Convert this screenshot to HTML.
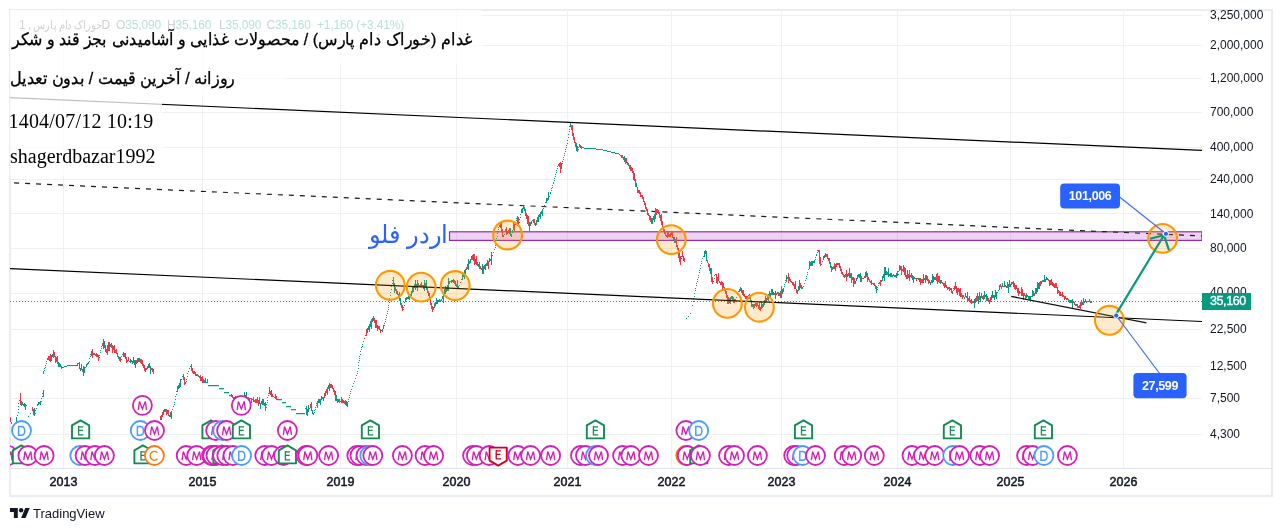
<!DOCTYPE html>
<html><head><meta charset="utf-8"><style>
*{margin:0;padding:0;box-sizing:border-box}
html,body{width:1282px;height:531px;overflow:hidden;background:#fff;font-family:"Liberation Sans",sans-serif}
.abs{position:absolute}
.frame{position:absolute;left:9px;top:9px;width:1264px;height:488px;border:2px solid #eaecf1}
.chart{position:absolute;left:10px;top:10px;width:1192px;height:458px;overflow:hidden}
.tax{position:absolute;left:10px;top:468px;width:1262px;height:1px;background:#e0e3eb}
.yl{position:absolute;font-size:12px;color:#131722;left:1210px;line-height:14px}
.xl{position:absolute;font-size:12.5px;color:#131722;-webkit-text-stroke:0.5px #131722;top:475px;width:40px;text-align:center}
.ov{position:absolute;background:rgba(255,255,255,0.75)}
.t1{position:absolute;color:#000;white-space:nowrap;direction:rtl;transform-origin:100% 50%}
.leg{position:absolute;top:18px;font-size:12px;white-space:nowrap;color:#cfd0d4;letter-spacing:-0.15px}
.leg b{font-weight:normal;color:#b9e2dc}
</style></head><body>
<div id="root" style="position:absolute;left:0;top:0;width:1282px;height:531px;will-change:transform">
<div class="frame"></div>
<div class="tax"></div>
<div class="chart">
<div style="position:absolute;left:-10px;top:-10px">
<svg width="1282" height="531" viewBox="0 0 1282 531" style="position:absolute;left:0;top:0" font-family="Liberation Sans, sans-serif">
<g stroke="#eff0f1" stroke-width="1">
<line x1="10" y1="15.5" x2="1202" y2="15.5"/>
<line x1="10" y1="45.5" x2="1202" y2="45.5"/>
<line x1="10" y1="78.5" x2="1202" y2="78.5"/>
<line x1="10" y1="112.5" x2="1202" y2="112.5"/>
<line x1="10" y1="147.5" x2="1202" y2="147.5"/>
<line x1="10" y1="179.5" x2="1202" y2="179.5"/>
<line x1="10" y1="213.5" x2="1202" y2="213.5"/>
<line x1="10" y1="248.5" x2="1202" y2="248.5"/>
<line x1="10" y1="293.5" x2="1202" y2="293.5"/>
<line x1="10" y1="329.5" x2="1202" y2="329.5"/>
<line x1="10" y1="366.5" x2="1202" y2="366.5"/>
<line x1="10" y1="398.5" x2="1202" y2="398.5"/>
<line x1="10" y1="434.5" x2="1202" y2="434.5"/>
<line x1="63.5" y1="10" x2="63.5" y2="468"/>
<line x1="202.5" y1="10" x2="202.5" y2="468"/>
<line x1="340.5" y1="10" x2="340.5" y2="468"/>
<line x1="456.5" y1="10" x2="456.5" y2="468"/>
<line x1="567.5" y1="10" x2="567.5" y2="468"/>
<line x1="671.5" y1="10" x2="671.5" y2="468"/>
<line x1="781.5" y1="10" x2="781.5" y2="468"/>
<line x1="897.5" y1="10" x2="897.5" y2="468"/>
<line x1="1010.5" y1="10" x2="1010.5" y2="468"/>
<line x1="1123.5" y1="10" x2="1123.5" y2="468"/>
</g>
<rect x="449.5" y="231.8" width="752.5" height="8.6" fill="rgba(156,39,176,0.2)" stroke="#9c27b0" stroke-width="1.2"/>
<line x1="13" y1="182.9" x2="1202" y2="236" stroke="#1a1a1a" stroke-width="1.2" stroke-dasharray="5 6" stroke-dashoffset="-1.1"/>
<line x1="10" y1="301.5" x2="1202" y2="301.5" stroke="#089981" stroke-width="1" stroke-dasharray="1 2"/>
<g><path d="M16 417h1v6h-1zM17 415h1v1h-1zM18 403h1v1h-1zM18 406h1v1h-1zM18 409h1v1h-1zM18 412h1v1h-1zM19 400h1v1h-1zM22 402h1v3h-1zM23 404h1v2h-1zM24 403h1v4h-1zM25 404h1v6h-1zM26 405h1v1h-1zM28 416h1v1h-1zM30 413h1v1h-1zM34 408h1v8h-1zM35 410h1v1h-1zM35 413h1v1h-1zM36 408h1v1h-1zM37 404h1v1h-1zM37 405h1v1h-1zM38 402h1v3h-1zM40 401h1v4h-1zM41 398h1v1h-1zM41 401h1v1h-1zM42 393h1v1h-1zM42 396h1v1h-1zM43 390h1v7h-1zM44 368h1v1h-1zM44 370h1v1h-1zM45 365h1v1h-1zM45 367h1v1h-1zM46 361h1v1h-1zM46 363h1v1h-1zM47 358h1v1h-1zM47 359h1v1h-1zM52 354h1v3h-1zM53 350h1v8h-1zM58 362h1v5h-1zM60 364h1v3h-1zM61 366h1v3h-1zM62 367h1v1h-1zM63 367h1v1h-1zM64 366h1v1h-1zM65 366h1v1h-1zM66 366h1v1h-1zM67 365h1v1h-1zM68 365h1v1h-1zM69 365h1v1h-1zM70 365h1v1h-1zM71 365h1v1h-1zM72 365h1v1h-1zM73 365h1v1h-1zM74 365h1v1h-1zM75 365h1v1h-1zM76 365h1v1h-1zM77 363h1v3h-1zM79 362h1v7h-1zM80 368h1v3h-1zM81 364h1v6h-1zM83 366h1v10h-1zM84 367h1v6h-1zM85 367h1v1h-1zM86 364h1v3h-1zM87 363h1v2h-1zM88 362h1v2h-1zM89 358h1v1h-1zM89 361h1v1h-1zM90 354h1v1h-1zM90 356h1v1h-1zM91 351h1v5h-1zM95 354h1v2h-1zM97 354h1v3h-1zM99 355h1v1h-1zM99 357h1v1h-1zM100 350h1v1h-1zM100 352h1v1h-1zM101 346h1v1h-1zM101 348h1v1h-1zM103 339h1v10h-1zM104 341h1v7h-1zM107 345h1v10h-1zM109 342h1v9h-1zM110 344h1v3h-1zM113 346h1v4h-1zM117 353h1v4h-1zM118 356h1v3h-1zM122 354h1v1h-1zM123 352h1v5h-1zM125 353h1v6h-1zM129 361h1v1h-1zM130 359h1v4h-1zM131 360h1v2h-1zM132 361h1v3h-1zM133 357h1v6h-1zM134 360h1v5h-1zM135 360h1v8h-1zM137 358h1v5h-1zM138 358h1v4h-1zM147 366h1v3h-1zM148 364h1v4h-1zM150 366h1v8h-1zM161 415h1v5h-1zM163 410h1v5h-1zM164 409h1v3h-1zM167 410h1v4h-1zM169 415h1v2h-1zM170 412h1v5h-1zM171 411h1v8h-1zM172 409h1v1h-1zM173 406h1v1h-1zM174 402h1v1h-1zM174 404h1v1h-1zM175 396h1v1h-1zM175 399h1v1h-1zM176 391h1v1h-1zM176 394h1v1h-1zM178 385h1v4h-1zM179 383h1v5h-1zM180 379h1v8h-1zM181 379h1v1h-1zM182 376h1v1h-1zM187 373h1v1h-1zM187 376h1v1h-1zM188 371h1v1h-1zM189 368h1v1h-1zM190 366h1v1h-1zM198 375h1v2h-1zM201 377h1v4h-1zM204 380h1v3h-1zM206 382h1v1h-1zM208 385h1v1.3h-1zM209 385h1v1.3h-1zM210 385h1v1.3h-1zM211 385h1v1.3h-1zM212 385h1v1.3h-1zM213 385h1v1.3h-1zM214 385h1v1.3h-1zM215 385h1v1.3h-1zM216 385h1v1.3h-1zM217 385h1v1.3h-1zM218 385h1v1.3h-1zM219 388h1v1.3h-1zM220 388h1v1.3h-1zM221 388h1v1.3h-1zM222 388h1v1.3h-1zM223 388h1v1.3h-1zM224 392h1v1.3h-1zM225 392h1v1.3h-1zM226 392h1v1.3h-1zM227 392h1v1.3h-1zM228 392h1v1.3h-1zM229 395h1v1.3h-1zM230 395h1v1.3h-1zM231 394h1v3h-1zM233 397h1v2h-1zM234 397h1v1h-1zM235 396h1v2h-1zM236 397h1v2h-1zM237 396h1v2h-1zM239 398h1v1h-1zM240 396h1v5h-1zM241 397h1v2h-1zM244 392h1v7h-1zM245 395h1v3h-1zM246 392h1v7h-1zM247 397h1v1h-1zM260 403h1v6h-1zM261 401h1v3h-1zM262 399h1v6h-1zM263 399h1v6h-1zM264 403h1v3h-1zM266 404h1v1h-1zM266 407h1v1h-1zM267 397h1v1h-1zM267 400h1v1h-1zM267 402h1v1h-1zM269 387h1v7h-1zM271 390h1v7h-1zM274 397h1v1h-1zM277 399h1v1.3h-1zM278 399h1v1.3h-1zM279 399h1v1.3h-1zM280 399h1v1.3h-1zM281 399h1v1.3h-1zM282 402h1v1.3h-1zM283 402h1v1.3h-1zM284 402h1v1.3h-1zM285 402h1v1.3h-1zM286 406h1v1.3h-1zM287 406h1v1.3h-1zM288 406h1v1.3h-1zM289 406h1v1.3h-1zM290 406h1v1.3h-1zM291 409h1v1.3h-1zM292 409h1v1.3h-1zM293 409h1v1.3h-1zM294 409h1v1.3h-1zM295 409h1v1.3h-1zM296 413h1v1.3h-1zM297 413h1v1.3h-1zM298 413h1v1.3h-1zM299 413h1v1.3h-1zM300 413h1v1.3h-1zM301 413h1v1.3h-1zM302 413h1v1.3h-1zM303 413h1v1.3h-1zM304 413h1v1.3h-1zM305 408h1v1h-1zM306 406h1v9h-1zM308 405h1v7h-1zM309 408h1v1h-1zM312 410h1v4h-1zM313 413h1v2h-1zM314 410h1v1h-1zM314 412h1v1h-1zM315 407h1v1h-1zM315 409h1v1h-1zM316 403h1v1h-1zM316 405h1v1h-1zM318 399h1v4h-1zM319 399h1v4h-1zM320 399h1v6h-1zM321 396h1v4h-1zM322 397h1v2h-1zM323 397h1v4h-1zM325 391h1v5h-1zM328 385h1v4h-1zM329 383h1v8h-1zM336 395h1v6h-1zM338 399h1v3h-1zM343 400h1v3h-1zM346 401h1v5h-1zM347 402h1v5h-1zM348 399h1v1h-1zM348 401h1v1h-1zM349 395h1v1h-1zM349 397h1v1h-1zM350 391h1v1h-1zM350 393h1v1h-1zM351 389h1v1h-1zM352 386h1v1h-1zM353 383h1v1h-1zM354 381h1v1h-1zM356 375h1v1h-1zM357 371h1v1h-1zM357 373h1v1h-1zM358 362h1v1h-1zM358 365h1v1h-1zM358 368h1v1h-1zM359 356h1v1h-1zM359 358h1v1h-1zM359 360h1v1h-1zM360 351h1v1h-1zM360 354h1v1h-1zM361 347h1v1h-1zM361 349h1v1h-1zM362 344h1v1h-1zM362 346h1v1h-1zM363 341h1v1h-1zM365 335h1v1h-1zM367 328h1v5h-1zM368 326h1v4h-1zM370 321h1v6h-1zM372 318h1v4h-1zM373 316h1v5h-1zM375 320h1v8h-1zM381 330h1v1h-1zM382 329h1v3h-1zM383 325h1v4h-1zM384 323h1v1h-1zM384 325h1v1h-1zM385 319h1v1h-1zM385 321h1v1h-1zM386 315h1v1h-1zM386 317h1v1h-1zM387 311h1v1h-1zM387 313h1v1h-1zM388 305h1v1h-1zM388 307h1v1h-1zM388 309h1v1h-1zM389 298h1v1h-1zM389 300h1v1h-1zM389 302h1v1h-1zM390 292h1v1h-1zM390 295h1v1h-1zM391 286h1v1h-1zM391 289h1v1h-1zM392 280h1v1h-1zM392 283h1v1h-1zM394 283h1v10h-1zM397 291h1v4h-1zM398 294h1v3h-1zM400 298h1v7h-1zM404 302h1v1h-1zM404 305h1v1h-1zM405 298h1v4h-1zM406 297h1v3h-1zM407 297h1v2h-1zM408 296h1v3h-1zM409 296h1v4h-1zM410 294h1v3h-1zM411 291h1v5h-1zM412 286h1v7h-1zM413 287h1v5h-1zM414 284h1v4h-1zM415 280h1v10h-1zM416 284h1v4h-1zM417 280h1v11h-1zM418 283h1v4h-1zM422 285h1v2h-1zM423 285h1v4h-1zM424 280h1v11h-1zM425 283h1v5h-1zM426 280h1v10h-1zM433 307h1v3h-1zM434 303h1v5h-1zM435 302h1v4h-1zM436 298h1v6h-1zM437 300h1v4h-1zM438 300h1v2h-1zM440 300h1v2h-1zM441 299h1v2h-1zM442 296h1v3h-1zM444 289h1v7h-1zM445 286h1v8h-1zM446 287h1v5h-1zM447 285h1v6h-1zM448 278h1v13h-1zM449 281h1v3h-1zM450 281h1v1h-1zM451 280h1v3h-1zM452 280h1v2h-1zM453 279h1v4h-1zM456 284h1v3h-1zM458 286h1v3h-1zM459 285h1v1h-1zM461 279h1v1h-1zM462 274h1v6h-1zM463 273h1v4h-1zM464 270h1v9h-1zM465 269h1v5h-1zM467 264h1v5h-1zM468 259h1v11h-1zM470 259h1v4h-1zM471 256h1v4h-1zM473 254h1v7h-1zM477 262h1v4h-1zM478 264h1v3h-1zM482 264h1v10h-1zM484 265h1v4h-1zM486 263h1v3h-1zM489 258h1v4h-1zM490 259h1v2h-1zM491 252h1v13h-1zM492 255h1v1h-1zM494 249h1v1h-1zM495 245h1v1h-1zM495 247h1v1h-1zM496 238h1v1h-1zM496 240h1v1h-1zM496 243h1v1h-1zM498 227h1v1h-1zM498 229h1v1h-1zM504 231h1v1h-1zM504 234h1v1h-1zM507 231h1v3h-1zM509 228h1v6h-1zM510 228h1v8h-1zM511 234h1v3h-1zM512 230h1v1h-1zM512 232h1v1h-1zM516 218h1v1h-1zM516 220h1v1h-1zM519 219h1v1h-1zM519 222h1v1h-1zM520 214h1v1h-1zM520 217h1v1h-1zM521 209h1v4h-1zM522 208h1v5h-1zM523 206h1v3h-1zM524 207h1v4h-1zM530 222h1v4h-1zM531 221h1v3h-1zM532 220h1v1h-1zM535 223h1v3h-1zM536 220h1v5h-1zM537 217h1v5h-1zM538 215h1v7h-1zM539 214h1v3h-1zM540 212h1v7h-1zM542 209h1v7h-1zM543 208h1v1h-1zM544 205h1v1h-1zM545 202h1v1h-1zM546 198h1v5h-1zM548 192h1v8h-1zM549 196h1v1h-1zM550 192h1v1h-1zM550 193h1v1h-1zM551 188h1v1h-1zM551 190h1v1h-1zM552 185h1v1h-1zM552 187h1v1h-1zM553 182h1v1h-1zM553 183h1v1h-1zM554 178h1v1h-1zM554 180h1v1h-1zM555 174h1v1h-1zM555 176h1v1h-1zM556 170h1v1h-1zM556 172h1v1h-1zM557 166h1v1h-1zM557 168h1v1h-1zM561 163h1v6h-1zM562 161h1v1h-1zM562 163h1v1h-1zM565 149h1v1h-1zM565 151h1v1h-1zM566 145h1v1h-1zM566 147h1v1h-1zM567 140h1v1h-1zM567 143h1v1h-1zM568 134h1v1h-1zM568 137h1v1h-1zM569 126h1v1h-1zM569 129h1v1h-1zM569 131h1v1h-1zM570 123h1v4h-1zM576 143h1v8h-1zM578 147h1v1h-1zM578 149h1v1h-1zM579 144h1v3h-1zM582 147h1v1h-1zM583 147h1v1h-1zM584 148h1v1h-1zM585 148h1v1h-1zM586 148h1v1h-1zM587 148h1v1h-1zM588 148h1v1h-1zM589 148h1v1h-1zM590 148h1v1h-1zM591 148h1v1h-1zM592 148h1v1h-1zM593 148h1v1h-1zM594 148h1v1h-1zM595 148h1v1h-1zM596 149h1v1h-1zM597 149h1v1h-1zM598 149h1v1h-1zM599 149h1v1h-1zM600 149h1v1h-1zM601 149h1v1h-1zM602 149h1v1h-1zM603 150h1v1h-1zM604 150h1v1h-1zM605 150h1v1h-1zM606 150h1v1h-1zM607 151h1v1h-1zM608 151h1v1h-1zM609 151h1v1h-1zM610 151h1v1h-1zM611 152h1v1h-1zM612 152h1v1h-1zM613 152h1v1h-1zM614 152h1v1h-1zM615 153h1v1h-1zM616 153h1v1h-1zM617 153h1v1h-1zM618 153h1v1h-1zM619 154h1v1h-1zM620 155h1v1h-1zM624 156h1v6h-1zM628 163h1v3h-1zM636 183h1v4h-1zM647 209h1v6h-1zM652 218h1v6h-1zM653 216h1v4h-1zM654 214h1v8h-1zM657 209h1v4h-1zM665 232h1v4h-1zM667 231h1v7h-1zM671 232h1v3h-1zM673 237h1v3h-1zM674 237h1v6h-1zM675 239h1v4h-1zM681 256h1v1h-1zM681 258h1v1h-1zM686 318h1v1h-1zM688 316h1v1h-1zM690 313h1v1h-1zM692 305h1v1h-1zM693 298h1v1h-1zM693 301h1v1h-1zM694 293h1v1h-1zM694 296h1v1h-1zM695 288h1v1h-1zM695 290h1v1h-1zM696 283h1v1h-1zM696 285h1v1h-1zM697 279h1v1h-1zM697 281h1v1h-1zM698 275h1v1h-1zM698 277h1v1h-1zM699 270h1v1h-1zM699 272h1v1h-1zM700 265h1v1h-1zM700 268h1v1h-1zM701 261h1v1h-1zM701 263h1v1h-1zM702 258h1v1h-1zM704 251h1v6h-1zM706 251h1v10h-1zM707 260h1v3h-1zM710 268h1v6h-1zM713 281h1v1h-1zM714 275h1v1h-1zM714 278h1v1h-1zM715 274h1v1h-1zM729 298h1v5h-1zM730 297h1v7h-1zM731 296h1v3h-1zM732 296h1v5h-1zM735 299h1v2h-1zM736 297h1v1h-1zM737 294h1v1h-1zM738 291h1v1h-1zM739 289h1v3h-1zM740 287h1v4h-1zM741 288h1v5h-1zM747 296h1v4h-1zM749 294h1v5h-1zM750 296h1v5h-1zM752 304h1v3h-1zM753 304h1v5h-1zM755 303h1v3h-1zM761 301h1v8h-1zM762 304h1v4h-1zM763 303h1v4h-1zM764 300h1v5h-1zM765 296h1v7h-1zM768 294h1v7h-1zM769 291h1v6h-1zM770 293h1v4h-1zM771 289h1v6h-1zM772 289h1v6h-1zM773 292h1v3h-1zM775 291h1v8h-1zM777 292h1v2h-1zM778 292h1v4h-1zM779 293h1v3h-1zM782 289h1v5h-1zM784 284h1v1h-1zM784 286h1v1h-1zM785 280h1v1h-1zM785 282h1v1h-1zM786 275h1v7h-1zM789 277h1v4h-1zM795 281h1v8h-1zM798 286h1v5h-1zM799 280h1v10h-1zM802 287h1v2h-1zM803 286h1v1h-1zM804 283h1v1h-1zM805 280h1v1h-1zM806 276h1v1h-1zM806 278h1v1h-1zM807 272h1v1h-1zM807 274h1v1h-1zM808 269h1v1h-1zM809 261h1v8h-1zM810 262h1v4h-1zM812 261h1v5h-1zM813 261h1v2h-1zM814 260h1v3h-1zM815 257h1v1h-1zM815 259h1v1h-1zM816 254h1v1h-1zM816 255h1v1h-1zM817 250h1v1h-1zM817 252h1v1h-1zM821 264h1v1h-1zM823 256h1v4h-1zM824 255h1v3h-1zM825 253h1v4h-1zM830 262h1v6h-1zM832 267h1v3h-1zM835 264h1v7h-1zM837 263h1v2h-1zM839 263h1v5h-1zM844 275h1v3h-1zM845 274h1v3h-1zM847 274h1v3h-1zM849 268h1v10h-1zM850 273h1v5h-1zM853 277h1v10h-1zM855 281h1v3h-1zM856 278h1v3h-1zM857 275h1v4h-1zM858 274h1v3h-1zM859 274h1v4h-1zM860 273h1v9h-1zM863 278h1v1h-1zM865 272h1v6h-1zM866 271h1v6h-1zM876 286h1v7h-1zM877 287h1v1h-1zM877 289h1v1h-1zM878 283h1v1h-1zM878 285h1v1h-1zM881 280h1v2h-1zM882 276h1v5h-1zM883 274h1v4h-1zM884 267h1v14h-1zM885 267h1v8h-1zM886 271h1v4h-1zM888 268h1v9h-1zM889 274h1v2h-1zM890 273h1v4h-1zM891 273h1v4h-1zM892 275h1v2h-1zM894 275h1v2h-1zM895 275h1v2h-1zM896 273h1v5h-1zM898 271h1v1h-1zM898 274h1v1h-1zM899 265h1v6h-1zM903 265h1v7h-1zM907 270h1v9h-1zM909 270h1v11h-1zM911 273h1v5h-1zM912 275h1v5h-1zM913 276h1v7h-1zM914 277h1v2h-1zM917 278h1v1h-1zM918 278h1v2h-1zM919 278h1v4h-1zM923 274h1v9h-1zM924 278h1v2h-1zM925 275h1v8h-1zM927 276h1v5h-1zM930 282h1v3h-1zM931 280h1v3h-1zM932 274h1v9h-1zM933 276h1v6h-1zM934 277h1v3h-1zM940 280h1v4h-1zM949 287h1v4h-1zM953 288h1v1h-1zM953 290h1v1h-1zM955 282h1v7h-1zM964 297h1v2h-1zM965 293h1v4h-1zM966 296h1v2h-1zM967 292h1v10h-1zM974 299h1v9h-1zM975 298h1v5h-1zM978 296h1v8h-1zM980 296h1v6h-1zM983 295h1v5h-1zM984 291h1v8h-1zM985 295h1v2h-1zM986 294h1v7h-1zM987 296h1v5h-1zM989 300h1v4h-1zM991 295h1v5h-1zM992 291h1v7h-1zM994 295h1v5h-1zM995 290h1v7h-1zM996 292h1v7h-1zM997 292h1v1h-1zM998 290h1v1h-1zM999 285h1v5h-1zM1002 283h1v4h-1zM1004 281h1v6h-1zM1005 285h1v2h-1zM1007 282h1v6h-1zM1008 284h1v9h-1zM1009 280h1v7h-1zM1010 284h1v3h-1zM1011 282h1v3h-1zM1023 293h1v7h-1zM1026 293h1v5h-1zM1028 296h1v3h-1zM1029 296h1v4h-1zM1030 296h1v4h-1zM1032 290h1v7h-1zM1035 288h1v6h-1zM1036 288h1v6h-1zM1037 282h1v10h-1zM1038 283h1v6h-1zM1039 282h1v7h-1zM1041 281h1v3h-1zM1042 280h1v2h-1zM1043 280h1v2h-1zM1044 275h1v7h-1zM1045 279h1v3h-1zM1046 277h1v3h-1zM1047 278h1v2h-1zM1049 280h1v6h-1zM1051 279h1v6h-1zM1057 287h1v7h-1zM1068 299h1v3h-1zM1070 300h1v3h-1zM1072 299h1v9h-1zM1076 304h1v2h-1zM1081 300h1v6h-1zM1082 302h1v3h-1zM1084 301h1v2h-1zM1085 299h1v3h-1zM1090 301h1v2h-1zM1091 301h1v2h-1z" fill="#089981"/>
<path d="M10 417h1v5h-1zM11 422h1v2h-1zM20 393h1v12h-1zM21 401h1v5h-1zM32 407h1v4h-1zM33 409h1v6h-1zM39 402h1v2h-1zM43 371h1v3h-1zM48 356h1v4h-1zM49 356h1v5h-1zM50 354h1v8h-1zM51 355h1v6h-1zM54 352h1v5h-1zM55 356h1v7h-1zM56 357h1v5h-1zM57 356h1v8h-1zM59 363h1v4h-1zM78 363h1v1h-1zM82 369h1v3h-1zM92 349h1v9h-1zM93 353h1v2h-1zM94 353h1v2h-1zM96 353h1v4h-1zM98 355h1v6h-1zM102 343h1v3h-1zM105 345h1v7h-1zM106 349h1v4h-1zM108 342h1v9h-1zM111 343h1v5h-1zM112 345h1v8h-1zM114 345h1v8h-1zM115 350h1v3h-1zM116 349h1v5h-1zM119 357h1v4h-1zM120 357h1v5h-1zM121 356h1v1h-1zM121 359h1v1h-1zM124 353h1v4h-1zM126 357h1v6h-1zM127 360h1v2h-1zM128 357h1v4h-1zM136 360h1v4h-1zM139 358h1v4h-1zM140 359h1v4h-1zM141 359h1v5h-1zM142 360h1v6h-1zM143 364h1v4h-1zM144 365h1v6h-1zM145 368h1v4h-1zM146 368h1v2h-1zM149 363h1v5h-1zM151 368h1v2h-1zM152 368h1v4h-1zM153 369h1v5h-1zM160 416h1v4h-1zM162 412h1v5h-1zM165 409h1v3h-1zM166 409h1v6h-1zM168 410h1v6h-1zM177 386h1v6h-1zM183 374h1v6h-1zM184 377h1v8h-1zM185 382h1v2h-1zM186 379h1v1h-1zM186 381h1v1h-1zM191 364h1v7h-1zM192 368h1v5h-1zM193 371h1v3h-1zM194 371h1v3h-1zM195 372h1v4h-1zM196 374h1v2h-1zM197 374h1v2h-1zM199 376h1v2h-1zM200 375h1v6h-1zM202 376h1v7h-1zM203 379h1v4h-1zM205 378h1v5h-1zM207 379h1v4h-1zM232 395h1v3h-1zM238 397h1v3h-1zM242 396h1v7h-1zM243 396h1v3h-1zM248 397h1v2h-1zM249 398h1v6h-1zM250 398h1v1h-1zM251 398h1v5h-1zM252 399h1v1h-1zM253 397h1v5h-1zM254 400h1v2h-1zM255 399h1v4h-1zM256 399h1v4h-1zM257 397h1v6h-1zM258 400h1v6h-1zM259 397h1v7h-1zM265 402h1v9h-1zM268 393h1v1h-1zM268 395h1v1h-1zM270 391h1v4h-1zM272 394h1v3h-1zM273 396h1v1h-1zM275 394h1v5h-1zM276 396h1v4h-1zM307 409h1v7h-1zM310 404h1v4h-1zM311 402h1v9h-1zM317 401h1v7h-1zM324 393h1v5h-1zM326 389h1v4h-1zM327 387h1v8h-1zM330 384h1v4h-1zM331 384h1v4h-1zM332 385h1v4h-1zM333 388h1v4h-1zM334 390h1v5h-1zM335 391h1v10h-1zM337 399h1v4h-1zM339 399h1v4h-1zM340 401h1v1h-1zM341 397h1v6h-1zM342 399h1v4h-1zM344 401h1v3h-1zM345 400h1v5h-1zM355 378h1v1h-1zM364 338h1v1h-1zM366 329h1v7h-1zM369 324h1v8h-1zM371 319h1v10h-1zM374 318h1v5h-1zM376 320h1v8h-1zM377 325h1v6h-1zM378 326h1v3h-1zM379 326h1v4h-1zM380 329h1v4h-1zM393 277h1v9h-1zM395 287h1v4h-1zM396 289h1v5h-1zM399 292h1v9h-1zM401 303h1v5h-1zM402 305h1v6h-1zM403 307h1v1h-1zM403 309h1v1h-1zM419 285h1v2h-1zM420 284h1v3h-1zM421 282h1v5h-1zM427 288h1v5h-1zM428 291h1v5h-1zM429 293h1v7h-1zM430 297h1v8h-1zM431 303h1v6h-1zM432 306h1v6h-1zM439 299h1v2h-1zM443 293h1v10h-1zM454 280h1v4h-1zM455 281h1v5h-1zM457 280h1v9h-1zM460 282h1v1h-1zM466 267h1v3h-1zM469 261h1v3h-1zM472 255h1v5h-1zM474 254h1v11h-1zM475 259h1v5h-1zM476 256h1v9h-1zM479 262h1v7h-1zM480 266h1v3h-1zM481 268h1v2h-1zM483 266h1v8h-1zM485 264h1v6h-1zM487 260h1v6h-1zM488 261h1v8h-1zM493 252h1v1h-1zM497 231h1v1h-1zM497 233h1v1h-1zM497 236h1v1h-1zM499 225h1v2h-1zM500 223h1v5h-1zM501 222h1v10h-1zM502 229h1v8h-1zM503 235h1v2h-1zM505 229h1v3h-1zM506 227h1v8h-1zM508 230h1v1h-1zM508 232h1v1h-1zM513 221h1v9h-1zM514 224h1v7h-1zM515 222h1v1h-1zM515 224h1v1h-1zM517 216h1v10h-1zM518 217h1v8h-1zM525 209h1v7h-1zM526 213h1v6h-1zM527 215h1v9h-1zM528 216h1v10h-1zM529 222h1v9h-1zM533 219h1v4h-1zM534 219h1v6h-1zM541 211h1v3h-1zM547 198h1v3h-1zM558 164h1v2h-1zM559 163h1v4h-1zM560 162h1v11h-1zM563 157h1v1h-1zM563 159h1v1h-1zM564 153h1v1h-1zM564 155h1v1h-1zM571 125h1v5h-1zM572 125h1v11h-1zM573 133h1v7h-1zM574 137h1v6h-1zM575 142h1v5h-1zM577 146h1v6h-1zM580 145h1v3h-1zM581 146h1v3h-1zM621 155h1v3h-1zM622 155h1v3h-1zM623 157h1v3h-1zM625 158h1v6h-1zM626 158h1v5h-1zM627 162h1v3h-1zM629 165h1v4h-1zM630 165h1v6h-1zM631 167h1v4h-1zM632 168h1v5h-1zM633 171h1v9h-1zM634 173h1v8h-1zM635 179h1v8h-1zM637 187h1v6h-1zM638 190h1v3h-1zM639 190h1v4h-1zM640 192h1v5h-1zM641 195h1v2h-1zM642 195h1v4h-1zM643 197h1v5h-1zM644 201h1v4h-1zM645 203h1v6h-1zM646 207h1v4h-1zM648 213h1v3h-1zM649 215h1v5h-1zM650 216h1v6h-1zM651 218h1v6h-1zM655 208h1v11h-1zM656 209h1v6h-1zM658 210h1v4h-1zM659 212h1v6h-1zM660 215h1v6h-1zM661 214h1v11h-1zM662 221h1v8h-1zM663 227h1v4h-1zM664 229h1v5h-1zM666 235h1v2h-1zM668 231h1v6h-1zM669 234h1v3h-1zM670 233h1v4h-1zM672 231h1v7h-1zM676 237h1v10h-1zM677 245h1v5h-1zM678 248h1v10h-1zM679 252h1v10h-1zM680 256h1v9h-1zM682 251h1v6h-1zM683 256h1v5h-1zM684 258h1v4h-1zM703 256h1v1h-1zM705 250h1v4h-1zM708 263h1v4h-1zM709 264h1v7h-1zM711 268h1v14h-1zM712 277h1v7h-1zM716 274h1v9h-1zM717 277h1v7h-1zM718 273h1v8h-1zM719 281h1v2h-1zM720 282h1v3h-1zM721 281h1v4h-1zM722 282h1v8h-1zM723 283h1v5h-1zM724 287h1v4h-1zM725 290h1v4h-1zM726 291h1v7h-1zM727 295h1v9h-1zM728 297h1v7h-1zM733 297h1v6h-1zM734 299h1v4h-1zM742 290h1v5h-1zM743 290h1v6h-1zM744 294h1v3h-1zM745 296h1v3h-1zM746 296h1v4h-1zM748 295h1v1h-1zM751 300h1v7h-1zM754 304h1v4h-1zM756 303h1v4h-1zM757 303h1v3h-1zM758 305h1v4h-1zM759 302h1v8h-1zM760 307h1v4h-1zM766 298h1v3h-1zM767 295h1v5h-1zM774 293h1v2h-1zM776 293h1v2h-1zM780 291h1v7h-1zM781 286h1v12h-1zM783 288h1v4h-1zM787 277h1v2h-1zM788 273h1v10h-1zM790 279h1v3h-1zM791 281h1v2h-1zM792 282h1v3h-1zM793 282h1v4h-1zM794 284h1v5h-1zM796 289h1v4h-1zM797 290h1v4h-1zM800 283h1v5h-1zM801 285h1v4h-1zM811 261h1v5h-1zM818 250h1v2h-1zM819 250h1v14h-1zM820 257h1v9h-1zM822 261h1v1h-1zM826 254h1v3h-1zM827 254h1v5h-1zM828 258h1v3h-1zM829 258h1v6h-1zM831 266h1v6h-1zM833 266h1v3h-1zM834 263h1v6h-1zM836 263h1v4h-1zM838 263h1v2h-1zM840 266h1v5h-1zM841 269h1v5h-1zM842 272h1v3h-1zM843 274h1v3h-1zM846 270h1v11h-1zM848 273h1v3h-1zM851 273h1v10h-1zM852 277h1v3h-1zM854 278h1v6h-1zM861 276h1v6h-1zM862 278h1v1h-1zM864 276h1v2h-1zM867 273h1v9h-1zM868 277h1v3h-1zM869 279h1v3h-1zM870 281h1v2h-1zM871 280h1v5h-1zM872 283h1v1h-1zM873 283h1v2h-1zM874 283h1v3h-1zM875 285h1v4h-1zM879 282h1v2h-1zM880 280h1v6h-1zM887 272h1v3h-1zM893 274h1v2h-1zM897 271h1v5h-1zM900 266h1v4h-1zM901 266h1v9h-1zM902 269h1v2h-1zM904 267h1v8h-1zM905 268h1v9h-1zM906 275h1v4h-1zM908 274h1v4h-1zM910 275h1v2h-1zM915 278h1v1h-1zM916 278h1v3h-1zM920 278h1v7h-1zM921 279h1v4h-1zM922 279h1v4h-1zM926 275h1v5h-1zM928 279h1v5h-1zM929 280h1v3h-1zM935 277h1v3h-1zM936 274h1v7h-1zM937 273h1v11h-1zM938 276h1v6h-1zM939 276h1v7h-1zM941 280h1v3h-1zM942 282h1v2h-1zM943 283h1v3h-1zM944 283h1v5h-1zM945 281h1v6h-1zM946 285h1v3h-1zM947 287h1v3h-1zM948 287h1v2h-1zM950 288h1v2h-1zM951 288h1v5h-1zM952 291h1v3h-1zM954 286h1v4h-1zM956 286h1v7h-1zM957 288h1v7h-1zM958 288h1v4h-1zM959 289h1v7h-1zM960 288h1v9h-1zM961 293h1v4h-1zM962 295h1v4h-1zM963 295h1v2h-1zM968 298h1v3h-1zM969 296h1v6h-1zM970 300h1v3h-1zM971 299h1v5h-1zM972 301h1v2h-1zM973 302h1v1h-1zM976 296h1v5h-1zM977 293h1v8h-1zM979 292h1v8h-1zM981 293h1v5h-1zM982 296h1v3h-1zM988 298h1v4h-1zM990 297h1v5h-1zM993 295h1v3h-1zM1000 284h1v3h-1zM1001 286h1v3h-1zM1003 286h1v1h-1zM1006 286h1v2h-1zM1012 282h1v2h-1zM1013 281h1v6h-1zM1014 283h1v6h-1zM1015 285h1v5h-1zM1016 285h1v4h-1zM1017 288h1v5h-1zM1018 288h1v8h-1zM1019 291h1v3h-1zM1020 292h1v1h-1zM1021 287h1v9h-1zM1022 289h1v7h-1zM1024 293h1v3h-1zM1025 295h1v5h-1zM1027 295h1v2h-1zM1031 296h1v1h-1zM1033 291h1v5h-1zM1034 293h1v3h-1zM1040 281h1v5h-1zM1048 279h1v2h-1zM1050 280h1v5h-1zM1052 282h1v4h-1zM1053 283h1v4h-1zM1054 284h1v4h-1zM1055 283h1v5h-1zM1056 283h1v5h-1zM1058 290h1v3h-1zM1059 291h1v5h-1zM1060 292h1v4h-1zM1061 294h1v2h-1zM1062 292h1v5h-1zM1063 295h1v2h-1zM1064 296h1v4h-1zM1065 296h1v3h-1zM1066 298h1v2h-1zM1067 298h1v2h-1zM1069 300h1v3h-1zM1071 300h1v3h-1zM1073 301h1v2h-1zM1074 302h1v3h-1zM1075 304h1v2h-1zM1077 304h1v4h-1zM1078 306h1v2h-1zM1079 305h1v3h-1zM1080 302h1v7h-1zM1083 298h1v7h-1zM1086 301h1v2h-1zM1087 301h1v1h-1zM1088 301h1v1h-1zM1089 299h1v3h-1z" fill="#f23645"/></g>
<line x1="10" y1="97.6" x2="1202" y2="150.45" stroke="#000" stroke-width="1.2"/>
<line x1="10" y1="268.6" x2="1202" y2="321.5" stroke="#000" stroke-width="1.2"/>
<line x1="1011.2" y1="296.4" x2="1146.4" y2="322.9" stroke="#111" stroke-width="1.3"/>
<circle cx="390.3" cy="285.3" r="14.4" fill="rgba(255,152,0,0.2)" stroke="#ff9800" stroke-width="2.1"/>
<circle cx="421.2" cy="287.1" r="14.4" fill="rgba(255,152,0,0.2)" stroke="#ff9800" stroke-width="2.1"/>
<circle cx="455.2" cy="285.5" r="14.4" fill="rgba(255,152,0,0.2)" stroke="#ff9800" stroke-width="2.1"/>
<circle cx="507.6" cy="235" r="14.4" fill="rgba(255,152,0,0.2)" stroke="#ff9800" stroke-width="2.1"/>
<circle cx="671.3" cy="239.6" r="14.4" fill="rgba(255,152,0,0.2)" stroke="#ff9800" stroke-width="2.1"/>
<circle cx="727.4" cy="303.4" r="14.4" fill="rgba(255,152,0,0.2)" stroke="#ff9800" stroke-width="2.1"/>
<circle cx="759.4" cy="307.2" r="14.4" fill="rgba(255,152,0,0.2)" stroke="#ff9800" stroke-width="2.1"/>
<circle cx="1162.6" cy="238.4" r="14.4" fill="rgba(255,152,0,0.2)" stroke="#ff9800" stroke-width="2.1"/>
<circle cx="1109.4" cy="320.3" r="14.4" fill="rgba(255,152,0,0.2)" stroke="#ff9800" stroke-width="2.1"/>
<line x1="1119" y1="196.5" x2="1165.9" y2="233.8" stroke="#3a6ff7" stroke-width="1.2"/>
<line x1="1116.2" y1="315.5" x2="1160" y2="374" stroke="#3a6ff7" stroke-width="1.2"/>
<g stroke="#089981" stroke-width="2.2" stroke-linecap="round" fill="none"><line x1="1115.2" y1="315.6" x2="1164" y2="235.2"/><line x1="1164" y1="235.2" x2="1150.8" y2="238.5"/><line x1="1164" y1="235.2" x2="1168.7" y2="249.4"/></g>
<circle cx="1165.9" cy="233.8" r="2.6" fill="#2962ff" stroke="#fff" stroke-width="1"/>
<circle cx="1116.2" cy="315.5" r="2.6" fill="#2962ff" stroke="#fff" stroke-width="1"/>
<rect x="1060.2" y="183.4" width="59.8" height="25" rx="4" fill="#2962ff"/>
<text x="1090.1" y="199.7" fill="#fff" font-size="12.5" font-weight="bold" text-anchor="middle" letter-spacing="-0.35">101,006</text>
<rect x="1133.4" y="372.9" width="53.2" height="25.4" rx="4" fill="#2962ff"/>
<text x="1160" y="389.5" fill="#fff" font-size="12.5" font-weight="bold" text-anchor="middle" letter-spacing="-0.35">27,599</text>
<g><g><circle cx="142.4" cy="405.3" r="9.5" fill="#fff" stroke="#d61fb5" stroke-width="1.8"/><path d="M138.3 410 L139.5 401.4 L142.4 408.9 L145.3 401.4 L146.5 410" fill="none" stroke="#d61fb5" stroke-width="1.35" stroke-linejoin="miter" stroke-miterlimit="3"/></g>
<g><circle cx="241.3" cy="405.3" r="9.5" fill="#fff" stroke="#d61fb5" stroke-width="1.8"/><path d="M237.2 410 L238.4 401.4 L241.3 408.9 L244.2 401.4 L245.4 410" fill="none" stroke="#d61fb5" stroke-width="1.35" stroke-linejoin="miter" stroke-miterlimit="3"/></g>
<g><circle cx="21.5" cy="430.5" r="9.5" fill="#fff" stroke="#4a9cff" stroke-width="1.8"/><path d="M18.6 426.5L21.3 426.5C24 426.5 24.7 428.6 24.7 430.9C24.7 433.1 24 435.2 21.3 435.2L18.6 435.2Z" fill="none" stroke="#4a9cff" stroke-width="1.45"/></g>
<g><path d="M80.6 420.4 L89.2 425.4 L89.2 438.4 L72 438.4 L72 425.4Z" fill="#fff" stroke="#168a52" stroke-width="1.9" stroke-linejoin="round"/><path d="M83.3 426.8H78.6M78.6 426.1V434.8H83.4M78.6 430.4H82.9" fill="none" stroke="#168a52" stroke-width="1.3"/></g>
<g><circle cx="140.3" cy="430.5" r="9.5" fill="#fff" stroke="#4a9cff" stroke-width="1.8"/><path d="M137.4 426.5L140.1 426.5C142.8 426.5 143.5 428.6 143.5 430.9C143.5 433.1 142.8 435.2 140.1 435.2L137.4 435.2Z" fill="none" stroke="#4a9cff" stroke-width="1.45"/></g>
<g><circle cx="154.5" cy="430.5" r="9.5" fill="#fff" stroke="#d61fb5" stroke-width="1.8"/><path d="M150.4 435.2 L151.6 426.6 L154.5 434.1 L157.4 426.6 L158.6 435.2" fill="none" stroke="#d61fb5" stroke-width="1.35" stroke-linejoin="miter" stroke-miterlimit="3"/></g>
<g><path d="M211 420.4 L219.6 425.4 L219.6 438.4 L202.4 438.4 L202.4 425.4Z" fill="#fff" stroke="#168a52" stroke-width="1.9" stroke-linejoin="round"/><path d="M213.7 426.8H209M209 426.1V434.8H213.8M209 430.4H213.3" fill="none" stroke="#168a52" stroke-width="1.3"/></g>
<g><circle cx="215.7" cy="430.5" r="9.5" fill="#fff" stroke="#d61fb5" stroke-width="1.8"/><path d="M211.6 435.2 L212.8 426.6 L215.7 434.1 L218.6 426.6 L219.8 435.2" fill="none" stroke="#d61fb5" stroke-width="1.35" stroke-linejoin="miter" stroke-miterlimit="3"/></g>
<g><circle cx="222.7" cy="430.5" r="9.5" fill="#fff" stroke="#4a9cff" stroke-width="1.8"/><path d="M219.8 426.5L222.5 426.5C225.2 426.5 225.9 428.6 225.9 430.9C225.9 433.1 225.2 435.2 222.5 435.2L219.8 435.2Z" fill="none" stroke="#4a9cff" stroke-width="1.45"/></g>
<g><circle cx="226.6" cy="430.5" r="9.5" fill="#fff" stroke="#d61fb5" stroke-width="1.8"/><path d="M222.5 435.2 L223.7 426.6 L226.6 434.1 L229.5 426.6 L230.7 435.2" fill="none" stroke="#d61fb5" stroke-width="1.35" stroke-linejoin="miter" stroke-miterlimit="3"/></g>
<g><path d="M241.4 420.4 L250 425.4 L250 438.4 L232.8 438.4 L232.8 425.4Z" fill="#fff" stroke="#168a52" stroke-width="1.9" stroke-linejoin="round"/><path d="M244.1 426.8H239.4M239.4 426.1V434.8H244.2M239.4 430.4H243.7" fill="none" stroke="#168a52" stroke-width="1.3"/></g>
<g><circle cx="287.4" cy="430.5" r="9.5" fill="#fff" stroke="#d61fb5" stroke-width="1.8"/><path d="M283.3 435.2 L284.5 426.6 L287.4 434.1 L290.3 426.6 L291.5 435.2" fill="none" stroke="#d61fb5" stroke-width="1.35" stroke-linejoin="miter" stroke-miterlimit="3"/></g>
<g><path d="M370.4 420.4 L379 425.4 L379 438.4 L361.8 438.4 L361.8 425.4Z" fill="#fff" stroke="#168a52" stroke-width="1.9" stroke-linejoin="round"/><path d="M373.1 426.8H368.4M368.4 426.1V434.8H373.2M368.4 430.4H372.7" fill="none" stroke="#168a52" stroke-width="1.3"/></g>
<g><path d="M595.4 420.4 L604 425.4 L604 438.4 L586.8 438.4 L586.8 425.4Z" fill="#fff" stroke="#168a52" stroke-width="1.9" stroke-linejoin="round"/><path d="M598.1 426.8H593.4M593.4 426.1V434.8H598.2M593.4 430.4H597.7" fill="none" stroke="#168a52" stroke-width="1.3"/></g>
<g><circle cx="685.9" cy="430.5" r="9.5" fill="#fff" stroke="#d61fb5" stroke-width="1.8"/><path d="M681.8 435.2 L683 426.6 L685.9 434.1 L688.8 426.6 L690 435.2" fill="none" stroke="#d61fb5" stroke-width="1.35" stroke-linejoin="miter" stroke-miterlimit="3"/></g>
<g><circle cx="698.7" cy="430.5" r="9.5" fill="#fff" stroke="#4a9cff" stroke-width="1.8"/><path d="M695.8 426.5L698.5 426.5C701.2 426.5 701.9 428.6 701.9 430.9C701.9 433.1 701.2 435.2 698.5 435.2L695.8 435.2Z" fill="none" stroke="#4a9cff" stroke-width="1.45"/></g>
<g><path d="M803.5 420.4 L812.1 425.4 L812.1 438.4 L794.9 438.4 L794.9 425.4Z" fill="#fff" stroke="#168a52" stroke-width="1.9" stroke-linejoin="round"/><path d="M806.2 426.8H801.5M801.5 426.1V434.8H806.3M801.5 430.4H805.8" fill="none" stroke="#168a52" stroke-width="1.3"/></g>
<g><path d="M952.4 420.4 L961 425.4 L961 438.4 L943.8 438.4 L943.8 425.4Z" fill="#fff" stroke="#168a52" stroke-width="1.9" stroke-linejoin="round"/><path d="M955.1 426.8H950.4M950.4 426.1V434.8H955.2M950.4 430.4H954.7" fill="none" stroke="#168a52" stroke-width="1.3"/></g>
<g><path d="M1043.4 420.4 L1052 425.4 L1052 438.4 L1034.8 438.4 L1034.8 425.4Z" fill="#fff" stroke="#168a52" stroke-width="1.9" stroke-linejoin="round"/><path d="M1046.1 426.8H1041.4M1041.4 426.1V434.8H1046.2M1041.4 430.4H1045.7" fill="none" stroke="#168a52" stroke-width="1.3"/></g>
<g><circle cx="8" cy="455.5" r="9.5" fill="#fff" stroke="#d61fb5" stroke-width="1.8"/><path d="M3.9 460.2 L5.1 451.6 L8 459.1 L10.9 451.6 L12.1 460.2" fill="none" stroke="#d61fb5" stroke-width="1.35" stroke-linejoin="miter" stroke-miterlimit="3"/></g>
<g><path d="M21.4 445.4 L30 450.4 L30 463.4 L12.8 463.4 L12.8 450.4Z" fill="#fff" stroke="#168a52" stroke-width="1.9" stroke-linejoin="round"/><path d="M24.1 451.8H19.4M19.4 451.1V459.8H24.2M19.4 455.4H23.7" fill="none" stroke="#168a52" stroke-width="1.3"/></g>
<g><circle cx="27.9" cy="455.5" r="9.5" fill="#fff" stroke="#d61fb5" stroke-width="1.8"/><path d="M23.8 460.2 L25 451.6 L27.9 459.1 L30.8 451.6 L32 460.2" fill="none" stroke="#d61fb5" stroke-width="1.35" stroke-linejoin="miter" stroke-miterlimit="3"/></g>
<g><circle cx="44.1" cy="455.5" r="9.5" fill="#fff" stroke="#d61fb5" stroke-width="1.8"/><path d="M40 460.2 L41.2 451.6 L44.1 459.1 L47 451.6 L48.2 460.2" fill="none" stroke="#d61fb5" stroke-width="1.35" stroke-linejoin="miter" stroke-miterlimit="3"/></g>
<g><circle cx="79.8" cy="455.5" r="9.5" fill="#fff" stroke="#4a9cff" stroke-width="1.8"/><path d="M76.9 451.5L79.6 451.5C82.3 451.5 83 453.6 83 455.9C83 458.1 82.3 460.2 79.6 460.2L76.9 460.2Z" fill="none" stroke="#4a9cff" stroke-width="1.45"/></g>
<g><circle cx="85.1" cy="455.5" r="9.5" fill="#fff" stroke="#d61fb5" stroke-width="1.8"/><path d="M81 460.2 L82.2 451.6 L85.1 459.1 L88 451.6 L89.2 460.2" fill="none" stroke="#d61fb5" stroke-width="1.35" stroke-linejoin="miter" stroke-miterlimit="3"/></g>
<g><circle cx="94.9" cy="455.5" r="9.5" fill="#fff" stroke="#d61fb5" stroke-width="1.8"/><path d="M90.8 460.2 L92 451.6 L94.9 459.1 L97.8 451.6 L99 460.2" fill="none" stroke="#d61fb5" stroke-width="1.35" stroke-linejoin="miter" stroke-miterlimit="3"/></g>
<g><circle cx="104.4" cy="455.5" r="9.5" fill="#fff" stroke="#d61fb5" stroke-width="1.8"/><path d="M100.3 460.2 L101.5 451.6 L104.4 459.1 L107.3 451.6 L108.5 460.2" fill="none" stroke="#d61fb5" stroke-width="1.35" stroke-linejoin="miter" stroke-miterlimit="3"/></g>
<g><path d="M143 445.4 L151.6 450.4 L151.6 463.4 L134.4 463.4 L134.4 450.4Z" fill="#fff" stroke="#168a52" stroke-width="1.9" stroke-linejoin="round"/><path d="M145.7 451.8H141M141 451.1V459.8H145.8M141 455.4H145.3" fill="none" stroke="#168a52" stroke-width="1.3"/></g>
<g><circle cx="154.4" cy="455.5" r="9.5" fill="#fff" stroke="#f57a10" stroke-width="1.8"/><path d="M157.5 452.9A4.2 4.5 0 1 0 157.5 458.8" fill="none" stroke="#f57a10" stroke-width="1.4"/></g>
<g><circle cx="186.2" cy="455.5" r="9.5" fill="#fff" stroke="#d61fb5" stroke-width="1.8"/><path d="M182.1 460.2 L183.3 451.6 L186.2 459.1 L189.1 451.6 L190.3 460.2" fill="none" stroke="#d61fb5" stroke-width="1.35" stroke-linejoin="miter" stroke-miterlimit="3"/></g>
<g><circle cx="196.7" cy="455.5" r="9.5" fill="#fff" stroke="#d61fb5" stroke-width="1.8"/><path d="M192.6 460.2 L193.8 451.6 L196.7 459.1 L199.6 451.6 L200.8 460.2" fill="none" stroke="#d61fb5" stroke-width="1.35" stroke-linejoin="miter" stroke-miterlimit="3"/></g>
<g><circle cx="211.5" cy="455.5" r="9.5" fill="#fff" stroke="#d61fb5" stroke-width="1.8"/><path d="M207.4 460.2 L208.6 451.6 L211.5 459.1 L214.4 451.6 L215.6 460.2" fill="none" stroke="#d61fb5" stroke-width="1.35" stroke-linejoin="miter" stroke-miterlimit="3"/></g>
<g><circle cx="213" cy="455.5" r="9.5" fill="#fff" stroke="#4a9cff" stroke-width="1.8"/><path d="M210.1 451.5L212.8 451.5C215.5 451.5 216.2 453.6 216.2 455.9C216.2 458.1 215.5 460.2 212.8 460.2L210.1 460.2Z" fill="none" stroke="#4a9cff" stroke-width="1.45"/></g>
<g><circle cx="212.7" cy="455.5" r="9.5" fill="#fff" stroke="#d61fb5" stroke-width="1.8"/><path d="M208.6 460.2 L209.8 451.6 L212.7 459.1 L215.6 451.6 L216.8 460.2" fill="none" stroke="#d61fb5" stroke-width="1.35" stroke-linejoin="miter" stroke-miterlimit="3"/></g>
<g><circle cx="216" cy="455.5" r="9.5" fill="#fff" stroke="#d61fb5" stroke-width="1.8"/><path d="M211.9 460.2 L213.1 451.6 L216 459.1 L218.9 451.6 L220.1 460.2" fill="none" stroke="#d61fb5" stroke-width="1.35" stroke-linejoin="miter" stroke-miterlimit="3"/></g>
<g><path d="M222 445.4 L230.6 450.4 L230.6 463.4 L213.4 463.4 L213.4 450.4Z" fill="#fff" stroke="#168a52" stroke-width="1.9" stroke-linejoin="round"/><path d="M224.7 451.8H220M220 451.1V459.8H224.8M220 455.4H224.3" fill="none" stroke="#168a52" stroke-width="1.3"/></g>
<g><circle cx="222.6" cy="455.5" r="9.5" fill="#fff" stroke="#d61fb5" stroke-width="1.8"/><path d="M218.5 460.2 L219.7 451.6 L222.6 459.1 L225.5 451.6 L226.7 460.2" fill="none" stroke="#d61fb5" stroke-width="1.35" stroke-linejoin="miter" stroke-miterlimit="3"/></g>
<g><circle cx="226.8" cy="455.5" r="9.5" fill="#fff" stroke="#d61fb5" stroke-width="1.8"/><path d="M222.7 460.2 L223.9 451.6 L226.8 459.1 L229.7 451.6 L230.9 460.2" fill="none" stroke="#d61fb5" stroke-width="1.35" stroke-linejoin="miter" stroke-miterlimit="3"/></g>
<g><circle cx="233" cy="455.5" r="9.5" fill="#fff" stroke="#d61fb5" stroke-width="1.8"/><path d="M228.9 460.2 L230.1 451.6 L233 459.1 L235.9 451.6 L237.1 460.2" fill="none" stroke="#d61fb5" stroke-width="1.35" stroke-linejoin="miter" stroke-miterlimit="3"/></g>
<g><circle cx="241.6" cy="455.5" r="9.5" fill="#fff" stroke="#4a9cff" stroke-width="1.8"/><path d="M238.7 451.5L241.4 451.5C244.1 451.5 244.8 453.6 244.8 455.9C244.8 458.1 244.1 460.2 241.4 460.2L238.7 460.2Z" fill="none" stroke="#4a9cff" stroke-width="1.45"/></g>
<g><circle cx="264.8" cy="455.5" r="9.5" fill="#fff" stroke="#d61fb5" stroke-width="1.8"/><path d="M260.7 460.2 L261.9 451.6 L264.8 459.1 L267.7 451.6 L268.9 460.2" fill="none" stroke="#d61fb5" stroke-width="1.35" stroke-linejoin="miter" stroke-miterlimit="3"/></g>
<g><circle cx="271.5" cy="455.5" r="9.5" fill="#fff" stroke="#d61fb5" stroke-width="1.8"/><path d="M267.4 460.2 L268.6 451.6 L271.5 459.1 L274.4 451.6 L275.6 460.2" fill="none" stroke="#d61fb5" stroke-width="1.35" stroke-linejoin="miter" stroke-miterlimit="3"/></g>
<g><circle cx="283.5" cy="455.5" r="9.5" fill="#fff" stroke="#d61fb5" stroke-width="1.8"/><path d="M279.4 460.2 L280.6 451.6 L283.5 459.1 L286.4 451.6 L287.6 460.2" fill="none" stroke="#d61fb5" stroke-width="1.35" stroke-linejoin="miter" stroke-miterlimit="3"/></g>
<g><path d="M287.4 445.4 L296 450.4 L296 463.4 L278.8 463.4 L278.8 450.4Z" fill="#fff" stroke="#168a52" stroke-width="1.9" stroke-linejoin="round"/><path d="M290.1 451.8H285.4M285.4 451.1V459.8H290.2M285.4 455.4H289.7" fill="none" stroke="#168a52" stroke-width="1.3"/></g>
<g><circle cx="306" cy="455.5" r="9.5" fill="#fff" stroke="#d61fb5" stroke-width="1.8"/><path d="M301.9 460.2 L303.1 451.6 L306 459.1 L308.9 451.6 L310.1 460.2" fill="none" stroke="#d61fb5" stroke-width="1.35" stroke-linejoin="miter" stroke-miterlimit="3"/></g>
<g><circle cx="307.8" cy="455.5" r="9.5" fill="#fff" stroke="#d61fb5" stroke-width="1.8"/><path d="M303.7 460.2 L304.9 451.6 L307.8 459.1 L310.7 451.6 L311.9 460.2" fill="none" stroke="#d61fb5" stroke-width="1.35" stroke-linejoin="miter" stroke-miterlimit="3"/></g>
<g><circle cx="328.6" cy="455.5" r="9.5" fill="#fff" stroke="#d61fb5" stroke-width="1.8"/><path d="M324.5 460.2 L325.7 451.6 L328.6 459.1 L331.5 451.6 L332.7 460.2" fill="none" stroke="#d61fb5" stroke-width="1.35" stroke-linejoin="miter" stroke-miterlimit="3"/></g>
<g><circle cx="356.8" cy="455.5" r="9.5" fill="#fff" stroke="#d61fb5" stroke-width="1.8"/><path d="M352.7 460.2 L353.9 451.6 L356.8 459.1 L359.7 451.6 L360.9 460.2" fill="none" stroke="#d61fb5" stroke-width="1.35" stroke-linejoin="miter" stroke-miterlimit="3"/></g>
<g><circle cx="360" cy="455.5" r="9.5" fill="#fff" stroke="#d61fb5" stroke-width="1.8"/><path d="M355.9 460.2 L357.1 451.6 L360 459.1 L362.9 451.6 L364.1 460.2" fill="none" stroke="#d61fb5" stroke-width="1.35" stroke-linejoin="miter" stroke-miterlimit="3"/></g>
<g><circle cx="366" cy="455.5" r="9.5" fill="#fff" stroke="#d61fb5" stroke-width="1.8"/><path d="M361.9 460.2 L363.1 451.6 L366 459.1 L368.9 451.6 L370.1 460.2" fill="none" stroke="#d61fb5" stroke-width="1.35" stroke-linejoin="miter" stroke-miterlimit="3"/></g>
<g><circle cx="369.8" cy="455.5" r="9.5" fill="#fff" stroke="#4a9cff" stroke-width="1.8"/><path d="M366.9 451.5L369.6 451.5C372.3 451.5 373 453.6 373 455.9C373 458.1 372.3 460.2 369.6 460.2L366.9 460.2Z" fill="none" stroke="#4a9cff" stroke-width="1.45"/></g>
<g><circle cx="372.8" cy="455.5" r="9.5" fill="#fff" stroke="#d61fb5" stroke-width="1.8"/><path d="M368.7 460.2 L369.9 451.6 L372.8 459.1 L375.7 451.6 L376.9 460.2" fill="none" stroke="#d61fb5" stroke-width="1.35" stroke-linejoin="miter" stroke-miterlimit="3"/></g>
<g><circle cx="402.4" cy="455.5" r="9.5" fill="#fff" stroke="#d61fb5" stroke-width="1.8"/><path d="M398.3 460.2 L399.5 451.6 L402.4 459.1 L405.3 451.6 L406.5 460.2" fill="none" stroke="#d61fb5" stroke-width="1.35" stroke-linejoin="miter" stroke-miterlimit="3"/></g>
<g><circle cx="425" cy="455.5" r="9.5" fill="#fff" stroke="#d61fb5" stroke-width="1.8"/><path d="M420.9 460.2 L422.1 451.6 L425 459.1 L427.9 451.6 L429.1 460.2" fill="none" stroke="#d61fb5" stroke-width="1.35" stroke-linejoin="miter" stroke-miterlimit="3"/></g>
<g><circle cx="433.6" cy="455.5" r="9.5" fill="#fff" stroke="#d61fb5" stroke-width="1.8"/><path d="M429.5 460.2 L430.7 451.6 L433.6 459.1 L436.5 451.6 L437.7 460.2" fill="none" stroke="#d61fb5" stroke-width="1.35" stroke-linejoin="miter" stroke-miterlimit="3"/></g>
<g><circle cx="472.6" cy="455.5" r="9.5" fill="#fff" stroke="#d61fb5" stroke-width="1.8"/><path d="M468.5 460.2 L469.7 451.6 L472.6 459.1 L475.5 451.6 L476.7 460.2" fill="none" stroke="#d61fb5" stroke-width="1.35" stroke-linejoin="miter" stroke-miterlimit="3"/></g>
<g><circle cx="476.4" cy="455.5" r="9.5" fill="#fff" stroke="#d61fb5" stroke-width="1.8"/><path d="M472.3 460.2 L473.5 451.6 L476.4 459.1 L479.3 451.6 L480.5 460.2" fill="none" stroke="#d61fb5" stroke-width="1.35" stroke-linejoin="miter" stroke-miterlimit="3"/></g>
<g><circle cx="489.2" cy="455.5" r="9.5" fill="#fff" stroke="#d61fb5" stroke-width="1.8"/><path d="M485.1 460.2 L486.3 451.6 L489.2 459.1 L492.1 451.6 L493.3 460.2" fill="none" stroke="#d61fb5" stroke-width="1.35" stroke-linejoin="miter" stroke-miterlimit="3"/></g>
<g><path d="M498.2 465.6 L506.8 460.6 L506.8 447.6 L489.6 447.6 L489.6 460.6Z" fill="#fff" stroke="#d0021b" stroke-width="1.9" stroke-linejoin="round"/><path d="M500.9 450.8H496.2M496.2 450.1V458.8H501M496.2 454.4H500.5" fill="none" stroke="#d0021b" stroke-width="1.3"/></g>
<g><circle cx="517.8" cy="455.5" r="9.5" fill="#fff" stroke="#d61fb5" stroke-width="1.8"/><path d="M513.7 460.2 L514.9 451.6 L517.8 459.1 L520.7 451.6 L521.9 460.2" fill="none" stroke="#d61fb5" stroke-width="1.35" stroke-linejoin="miter" stroke-miterlimit="3"/></g>
<g><circle cx="530.6" cy="455.5" r="9.5" fill="#fff" stroke="#d61fb5" stroke-width="1.8"/><path d="M526.5 460.2 L527.7 451.6 L530.6 459.1 L533.5 451.6 L534.7 460.2" fill="none" stroke="#d61fb5" stroke-width="1.35" stroke-linejoin="miter" stroke-miterlimit="3"/></g>
<g><circle cx="550.6" cy="455.5" r="9.5" fill="#fff" stroke="#d61fb5" stroke-width="1.8"/><path d="M546.5 460.2 L547.7 451.6 L550.6 459.1 L553.5 451.6 L554.7 460.2" fill="none" stroke="#d61fb5" stroke-width="1.35" stroke-linejoin="miter" stroke-miterlimit="3"/></g>
<g><circle cx="580.5" cy="455.5" r="9.5" fill="#fff" stroke="#d61fb5" stroke-width="1.8"/><path d="M576.4 460.2 L577.6 451.6 L580.5 459.1 L583.4 451.6 L584.6 460.2" fill="none" stroke="#d61fb5" stroke-width="1.35" stroke-linejoin="miter" stroke-miterlimit="3"/></g>
<g><circle cx="585.5" cy="455.5" r="9.5" fill="#fff" stroke="#d61fb5" stroke-width="1.8"/><path d="M581.4 460.2 L582.6 451.6 L585.5 459.1 L588.4 451.6 L589.6 460.2" fill="none" stroke="#d61fb5" stroke-width="1.35" stroke-linejoin="miter" stroke-miterlimit="3"/></g>
<g><circle cx="595.5" cy="455.5" r="9.5" fill="#fff" stroke="#4a9cff" stroke-width="1.8"/><path d="M592.6 451.5L595.3 451.5C598 451.5 598.7 453.6 598.7 455.9C598.7 458.1 598 460.2 595.3 460.2L592.6 460.2Z" fill="none" stroke="#4a9cff" stroke-width="1.45"/></g>
<g><circle cx="598.5" cy="455.5" r="9.5" fill="#fff" stroke="#d61fb5" stroke-width="1.8"/><path d="M594.4 460.2 L595.6 451.6 L598.5 459.1 L601.4 451.6 L602.6 460.2" fill="none" stroke="#d61fb5" stroke-width="1.35" stroke-linejoin="miter" stroke-miterlimit="3"/></g>
<g><circle cx="622.6" cy="455.5" r="9.5" fill="#fff" stroke="#d61fb5" stroke-width="1.8"/><path d="M618.5 460.2 L619.7 451.6 L622.6 459.1 L625.5 451.6 L626.7 460.2" fill="none" stroke="#d61fb5" stroke-width="1.35" stroke-linejoin="miter" stroke-miterlimit="3"/></g>
<g><circle cx="630.9" cy="455.5" r="9.5" fill="#fff" stroke="#d61fb5" stroke-width="1.8"/><path d="M626.8 460.2 L628 451.6 L630.9 459.1 L633.8 451.6 L635 460.2" fill="none" stroke="#d61fb5" stroke-width="1.35" stroke-linejoin="miter" stroke-miterlimit="3"/></g>
<g><circle cx="648.5" cy="455.5" r="9.5" fill="#fff" stroke="#d61fb5" stroke-width="1.8"/><path d="M644.4 460.2 L645.6 451.6 L648.5 459.1 L651.4 451.6 L652.6 460.2" fill="none" stroke="#d61fb5" stroke-width="1.35" stroke-linejoin="miter" stroke-miterlimit="3"/></g>
<g><circle cx="685.8" cy="455.5" r="9.5" fill="#fff" stroke="#f57a10" stroke-width="1.8"/><path d="M688.9 452.9A4.2 4.5 0 1 0 688.9 458.8" fill="none" stroke="#f57a10" stroke-width="1.4"/></g>
<g><circle cx="687.2" cy="455.5" r="9.5" fill="#fff" stroke="#d61fb5" stroke-width="1.8"/><path d="M683.1 460.2 L684.3 451.6 L687.2 459.1 L690.1 451.6 L691.3 460.2" fill="none" stroke="#d61fb5" stroke-width="1.35" stroke-linejoin="miter" stroke-miterlimit="3"/></g>
<g><path d="M698.8 445.4 L707.4 450.4 L707.4 463.4 L690.2 463.4 L690.2 450.4Z" fill="#fff" stroke="#168a52" stroke-width="1.9" stroke-linejoin="round"/><path d="M701.5 451.8H696.8M696.8 451.1V459.8H701.6M696.8 455.4H701.1" fill="none" stroke="#168a52" stroke-width="1.3"/></g>
<g><circle cx="700.4" cy="455.5" r="9.5" fill="#fff" stroke="#d61fb5" stroke-width="1.8"/><path d="M696.3 460.2 L697.5 451.6 L700.4 459.1 L703.3 451.6 L704.5 460.2" fill="none" stroke="#d61fb5" stroke-width="1.35" stroke-linejoin="miter" stroke-miterlimit="3"/></g>
<g><circle cx="728.6" cy="455.5" r="9.5" fill="#fff" stroke="#d61fb5" stroke-width="1.8"/><path d="M724.5 460.2 L725.7 451.6 L728.6 459.1 L731.5 451.6 L732.7 460.2" fill="none" stroke="#d61fb5" stroke-width="1.35" stroke-linejoin="miter" stroke-miterlimit="3"/></g>
<g><circle cx="734.5" cy="455.5" r="9.5" fill="#fff" stroke="#d61fb5" stroke-width="1.8"/><path d="M730.4 460.2 L731.6 451.6 L734.5 459.1 L737.4 451.6 L738.6 460.2" fill="none" stroke="#d61fb5" stroke-width="1.35" stroke-linejoin="miter" stroke-miterlimit="3"/></g>
<g><circle cx="757.4" cy="455.5" r="9.5" fill="#fff" stroke="#d61fb5" stroke-width="1.8"/><path d="M753.3 460.2 L754.5 451.6 L757.4 459.1 L760.3 451.6 L761.5 460.2" fill="none" stroke="#d61fb5" stroke-width="1.35" stroke-linejoin="miter" stroke-miterlimit="3"/></g>
<g><circle cx="793.7" cy="455.5" r="9.5" fill="#fff" stroke="#d61fb5" stroke-width="1.8"/><path d="M789.6 460.2 L790.8 451.6 L793.7 459.1 L796.6 451.6 L797.8 460.2" fill="none" stroke="#d61fb5" stroke-width="1.35" stroke-linejoin="miter" stroke-miterlimit="3"/></g>
<g><circle cx="796.7" cy="455.5" r="9.5" fill="#fff" stroke="#d61fb5" stroke-width="1.8"/><path d="M792.6 460.2 L793.8 451.6 L796.7 459.1 L799.6 451.6 L800.8 460.2" fill="none" stroke="#d61fb5" stroke-width="1.35" stroke-linejoin="miter" stroke-miterlimit="3"/></g>
<g><circle cx="802.7" cy="455.5" r="9.5" fill="#fff" stroke="#4a9cff" stroke-width="1.8"/><path d="M799.8 451.5L802.5 451.5C805.2 451.5 805.9 453.6 805.9 455.9C805.9 458.1 805.2 460.2 802.5 460.2L799.8 460.2Z" fill="none" stroke="#4a9cff" stroke-width="1.45"/></g>
<g><circle cx="815.5" cy="455.5" r="9.5" fill="#fff" stroke="#d61fb5" stroke-width="1.8"/><path d="M811.4 460.2 L812.6 451.6 L815.5 459.1 L818.4 451.6 L819.6 460.2" fill="none" stroke="#d61fb5" stroke-width="1.35" stroke-linejoin="miter" stroke-miterlimit="3"/></g>
<g><circle cx="844.2" cy="455.5" r="9.5" fill="#fff" stroke="#d61fb5" stroke-width="1.8"/><path d="M840.1 460.2 L841.3 451.6 L844.2 459.1 L847.1 451.6 L848.3 460.2" fill="none" stroke="#d61fb5" stroke-width="1.35" stroke-linejoin="miter" stroke-miterlimit="3"/></g>
<g><circle cx="851.7" cy="455.5" r="9.5" fill="#fff" stroke="#d61fb5" stroke-width="1.8"/><path d="M847.6 460.2 L848.8 451.6 L851.7 459.1 L854.6 451.6 L855.8 460.2" fill="none" stroke="#d61fb5" stroke-width="1.35" stroke-linejoin="miter" stroke-miterlimit="3"/></g>
<g><circle cx="874.3" cy="455.5" r="9.5" fill="#fff" stroke="#d61fb5" stroke-width="1.8"/><path d="M870.2 460.2 L871.4 451.6 L874.3 459.1 L877.2 451.6 L878.4 460.2" fill="none" stroke="#d61fb5" stroke-width="1.35" stroke-linejoin="miter" stroke-miterlimit="3"/></g>
<g><circle cx="912" cy="455.5" r="9.5" fill="#fff" stroke="#d61fb5" stroke-width="1.8"/><path d="M907.9 460.2 L909.1 451.6 L912 459.1 L914.9 451.6 L916.1 460.2" fill="none" stroke="#d61fb5" stroke-width="1.35" stroke-linejoin="miter" stroke-miterlimit="3"/></g>
<g><circle cx="923.4" cy="455.5" r="9.5" fill="#fff" stroke="#d61fb5" stroke-width="1.8"/><path d="M919.3 460.2 L920.5 451.6 L923.4 459.1 L926.3 451.6 L927.5 460.2" fill="none" stroke="#d61fb5" stroke-width="1.35" stroke-linejoin="miter" stroke-miterlimit="3"/></g>
<g><circle cx="934.7" cy="455.5" r="9.5" fill="#fff" stroke="#d61fb5" stroke-width="1.8"/><path d="M930.6 460.2 L931.8 451.6 L934.7 459.1 L937.6 451.6 L938.8 460.2" fill="none" stroke="#d61fb5" stroke-width="1.35" stroke-linejoin="miter" stroke-miterlimit="3"/></g>
<g><circle cx="952.7" cy="455.5" r="9.5" fill="#fff" stroke="#4a9cff" stroke-width="1.8"/><path d="M949.8 451.5L952.5 451.5C955.2 451.5 955.9 453.6 955.9 455.9C955.9 458.1 955.2 460.2 952.5 460.2L949.8 460.2Z" fill="none" stroke="#4a9cff" stroke-width="1.45"/></g>
<g><circle cx="959.5" cy="455.5" r="9.5" fill="#fff" stroke="#d61fb5" stroke-width="1.8"/><path d="M955.4 460.2 L956.6 451.6 L959.5 459.1 L962.4 451.6 L963.6 460.2" fill="none" stroke="#d61fb5" stroke-width="1.35" stroke-linejoin="miter" stroke-miterlimit="3"/></g>
<g><circle cx="979.8" cy="455.5" r="9.5" fill="#fff" stroke="#d61fb5" stroke-width="1.8"/><path d="M975.7 460.2 L976.9 451.6 L979.8 459.1 L982.7 451.6 L983.9 460.2" fill="none" stroke="#d61fb5" stroke-width="1.35" stroke-linejoin="miter" stroke-miterlimit="3"/></g>
<g><circle cx="989.6" cy="455.5" r="9.5" fill="#fff" stroke="#d61fb5" stroke-width="1.8"/><path d="M985.5 460.2 L986.7 451.6 L989.6 459.1 L992.5 451.6 L993.7 460.2" fill="none" stroke="#d61fb5" stroke-width="1.35" stroke-linejoin="miter" stroke-miterlimit="3"/></g>
<g><circle cx="1026.6" cy="455.5" r="9.5" fill="#fff" stroke="#d61fb5" stroke-width="1.8"/><path d="M1022.5 460.2 L1023.7 451.6 L1026.6 459.1 L1029.5 451.6 L1030.7 460.2" fill="none" stroke="#d61fb5" stroke-width="1.35" stroke-linejoin="miter" stroke-miterlimit="3"/></g>
<g><circle cx="1032.6" cy="455.5" r="9.5" fill="#fff" stroke="#d61fb5" stroke-width="1.8"/><path d="M1028.5 460.2 L1029.7 451.6 L1032.6 459.1 L1035.5 451.6 L1036.7 460.2" fill="none" stroke="#d61fb5" stroke-width="1.35" stroke-linejoin="miter" stroke-miterlimit="3"/></g>
<g><circle cx="1043.9" cy="455.5" r="9.5" fill="#fff" stroke="#4a9cff" stroke-width="1.8"/><path d="M1041 451.5L1043.7 451.5C1046.4 451.5 1047.1 453.6 1047.1 455.9C1047.1 458.1 1046.4 460.2 1043.7 460.2L1041 460.2Z" fill="none" stroke="#4a9cff" stroke-width="1.45"/></g>
<g><circle cx="1067.4" cy="455.5" r="9.5" fill="#fff" stroke="#d61fb5" stroke-width="1.8"/><path d="M1063.3 460.2 L1064.5 451.6 L1067.4 459.1 L1070.3 451.6 L1071.5 460.2" fill="none" stroke="#d61fb5" stroke-width="1.35" stroke-linejoin="miter" stroke-miterlimit="3"/></g></g>
</svg>
</div>
</div>
<div class="yl" style="top:7.8px">3,250,000</div>
<div class="yl" style="top:37.6px">2,000,000</div>
<div class="yl" style="top:70.8px">1,200,000</div>
<div class="yl" style="top:104.7px">700,000</div>
<div class="yl" style="top:140px">400,000</div>
<div class="yl" style="top:171.8px">240,000</div>
<div class="yl" style="top:206.5px">140,000</div>
<div class="yl" style="top:240.8px">80,000</div>
<div class="yl" style="top:285px">40,000</div>
<div class="yl" style="top:321.5px">22,500</div>
<div class="yl" style="top:358.5px">12,500</div>
<div class="yl" style="top:391px">7,500</div>
<div class="yl" style="top:427px">4,300</div>
<div class="xl" style="left:43.5px">2013</div>
<div class="xl" style="left:182.5px">2015</div>
<div class="xl" style="left:320.5px">2019</div>
<div class="xl" style="left:436.5px">2020</div>
<div class="xl" style="left:547.5px">2021</div>
<div class="xl" style="left:651.5px">2022</div>
<div class="xl" style="left:761.5px">2023</div>
<div class="xl" style="left:877.5px">2024</div>
<div class="xl" style="left:990.5px">2025</div>
<div class="xl" style="left:1103.5px">2026</div>
<div class="abs" style="left:1202px;top:293px;width:49px;height:16.7px;background:#089981;color:#fff;font-size:12.5px;-webkit-text-stroke:0.35px #fff;letter-spacing:-0.4px;line-height:17px;padding-left:8px">35,160</div>
<div class="ov" style="left:10px;top:10px;width:472px;height:54px"></div>
<div class="ov" style="left:10px;top:64px;width:275px;height:33px"></div>
<div class="ov" style="left:10px;top:97px;width:151.5px;height:41px"></div>
<div class="ov" style="left:10px;top:138px;width:155px;height:38px"></div>
<div class="leg" style="left:19px">1</div>
<div class="leg" style="left:28px">,</div>
<div class="leg" id="f4" style="transform:scaleX(0.8346);right:1180px;direction:rtl;transform-origin:100% 50%">خوراک دام پارس</div>
<div class="leg" style="left:101.5px">D</div>
<div class="leg" style="left:116px">O<b>35,090</b></div>
<div class="leg" style="left:167px">H<b>35,160</b></div>
<div class="leg" style="left:219px">L<b>35,090</b></div>
<div class="leg" style="left:266.5px">C<b>35,160</b></div>
<div class="leg" style="left:317px"><b>+1,160 (+3.41%)</b></div>
<div class="t1" id="f1" style="transform:scaleX(0.9384);right:809px;top:28.5px;font-size:17px;-webkit-text-stroke:0.3px #000">غدام (خوراک دام پارس) / محصولات غذایی و آشامیدنی بجز قند و شکر</div>
<div class="t1" id="f2" style="transform:scaleX(0.9462);right:1047.5px;top:68px;font-size:17px;-webkit-text-stroke:0.3px #000">روزانه / آخرین قیمت / بدون تعدیل</div>
<div class="abs" style="left:8.5px;top:110px;font:20px 'Liberation Serif',serif;color:#000;white-space:nowrap;letter-spacing:0.2px">1404/07/12 10:19</div>
<div class="abs" style="left:10px;top:145px;font:20px 'Liberation Serif',serif;color:#000;white-space:nowrap">shagerdbazar1992</div>
<div class="t1" id="f3" style="transform:scaleX(0.964);right:834px;top:220px;font-size:25px;color:#2962ff">اردر فلو</div>
<svg class="abs" style="left:10px;top:508px" width="20" height="10" viewBox="0 4 36 18"><path d="M14 22H7V11H0V4h14v18zM28 22h-8l7.5-18h8L28 22z" fill="#131722"/><circle cx="20" cy="8" r="4" fill="#131722"/></svg>
<div class="abs" style="left:33px;top:505.8px;font-size:13px;color:#131722">TradingView</div>
</div>
<script>
(function(){var L=[['f1',460.5],['f2',225],['f3',79],['f4',69]];
for(var i=0;i<L.length;i++){var e=document.getElementById(L[i][0]);var t=e.style.transform;e.style.transform='none';var w=e.getBoundingClientRect().width;e.style.transform=(w>0)?'scaleX('+(L[i][1]/w).toFixed(4)+')':t;}})();
</script>
</body></html>
